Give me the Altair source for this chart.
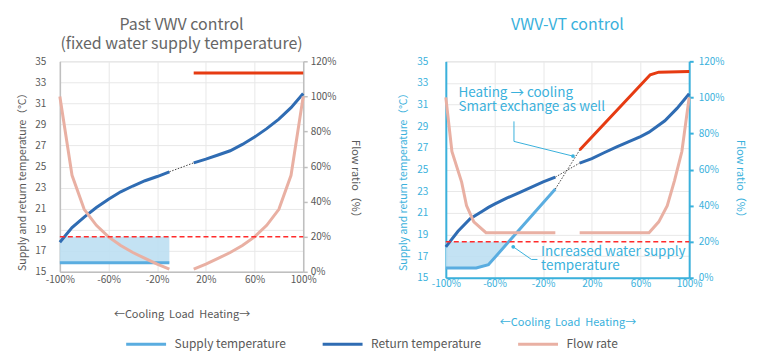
import altair as alt
import pandas as pd

# ---------------- data ----------------
SERIES = ["Supply temperature", "Return temperature", "Flow rate"]
load_ticks = [-100, -60, -20, 20, 60, 100]
temp_ticks = [15, 17, 19, 21, 23, 25, 27, 29, 31, 33, 35]
flow_ticks = [0, 20, 40, 60, 80, 100, 120]
flow_limit = 20  # % (dashed red line)
limit_temp = 18.33

# Past VWV control
past_ret_x1 = [-100, -90, -80, -70, -60, -50, -40, -30, -20, -10]
past_ret_y1 = [17.8, 19.2, 20.2, 21.1, 21.9, 22.6, 23.15, 23.65, 24.05, 24.5]
past_ret_x2 = [10, 20, 30, 40, 50, 60, 70, 80, 90, 100]
past_ret_y2 = [25.35, 25.7, 26.1, 26.5, 27.1, 27.8, 28.6, 29.5, 30.6, 31.95]
past_sup_x = [-100, -10]
past_sup_y = [15.85, 15.85]
past_heat_x = [10, 100]
past_heat_y = [33.9, 33.9]
past_flow_x1 = [-100, -90, -80, -70, -60, -50, -40, -30, -20, -10]
past_flow_y1 = [100, 55, 35.6, 26.5, 19.9, 15, 11, 7.6, 4.3, 1.5]
past_flow_x2 = [10, 20, 30, 40, 50, 60, 70, 80, 90, 100]
past_flow_y2 = [1.5, 4.3, 7.6, 11, 15, 19.9, 26.5, 35.6, 55, 100]
past_conn_x = [[-10, 10]]
past_conn_y = [[24.5, 25.35]]
past_fill_x = [-100, -10]
past_fill_y = [15.85, 15.85]

# VWV-VT control
vt_ret_x1 = [-100, -90, -80, -70, -65, -60, -50, -40, -30, -20, -10]
vt_ret_y1 = [17.85, 19.3, 20.45, 21.15, 21.5, 21.8, 22.35, 22.85, 23.35, 23.85, 24.3]
vt_ret_x2 = [10, 20, 30, 40, 50, 60, 67, 80, 90, 100]
vt_ret_y2 = [25.6, 26.0, 26.55, 27.07, 27.55, 28.05, 28.45, 29.5, 30.65, 32.0]
vt_sup_x = [-100, -75, -65, -10]
vt_sup_y = [15.9, 15.9, 16.2, 23.2]
vt_heat_x = [10, 68, 75, 100]
vt_heat_y = [26.8, 33.75, 34.0, 34.05]
vt_flow_x1 = [-100, -95, -87, -83, -77, -67, -10]
vt_flow_y1 = [100, 70, 53, 40, 31, 25, 25]
vt_flow_x2 = [10, 67, 75, 82, 88, 94, 100]
vt_flow_y2 = [25, 25, 31, 40, 54, 70, 100]
vt_conn_x = [[-10, 10], [-10, 10]]
vt_conn_y = [[24.3, 25.6], [23.2, 26.8]]
vt_fill_x = [-100, -75, -65, -49]
vt_fill_y = [15.9, 15.9, 16.2, 18.33]

vt_notes = ["Heating \u2192 cooling", "Smart exchange as well",
            "Increased water supply", "temperature"]
vt_note_x = [-89.6, -89.6, -21.7, -21.7]
vt_note_y = [32.08, 30.8, 17.42, 16.13]
vt_lead_x = [[-44.0, -44.0, 4.5], [-44.6, -29.6, -24.7]]
vt_lead_y = [[29.45, 27.6, 26.24], [17.86, 16.69, 16.69]]

# ---------------- style ----------------
FONT = "Noto Sans CJK JP"
GRAY = "#595959"
GRAY_LINE = "#BFBFBF"
BLUE_UI = "#3AB1DC"
C_SUPPLY = "#5AADE0"
C_RETURN = "#2F6CB3"
C_FLOW = "#E9B0A3"
C_HEAT = "#E63B12"
C_LIMIT = "#FF2B2B"
C_FILL = "#BCDFF2"
GRID = "#E8E8E8"
AX_TITLE = 11
Y_TITLE = 10.5

legend = alt.Legend(
    orient="none", legendX=65, legendY=262, direction="horizontal", title=None,
    symbolType="stroke", symbolSize=1600, symbolStrokeWidth=3,
    labelFontSize=12, labelColor=GRAY, labelFont=FONT, columnPadding=30,
    labelOffset=7,
)
COLOR = alt.Color("series:N", scale=alt.Scale(domain=SERIES, range=[C_SUPPLY, C_RETURN, C_FLOW]),
                  legend=legend)


def line_rows(xs, ys, series, seg):
    return [dict(x=a, y=b, series=series, seg=seg) for a, b in zip(xs, ys)]


def panel(title, ui_line, ui_text, dw, main_rows, flow_rows, heat_x, heat_y, conn_x, conn_y,
          fill_x, fill_y, y_lab_pad, y_title_pad, yr_lab_pad, yr_title_pad, x_lab_pad,
          x_title_pad, w, h, title_y, notes=None):
    X = alt.X("x:Q", scale=alt.Scale(domain=[-100, 100], nice=False, zero=False),
              axis=alt.Axis(values=load_ticks, labelExpr="datum.value + '%'",
                            title="\u2190Cooling\u00a0\u00a0Load\u00a0\u00a0Heating\u2192",
                            grid=True, gridColor=GRID, domainColor=ui_line, domainWidth=dw,
                            ticks=False, labelColor=ui_text, labelFontSize=10, labelFont=FONT,
                            labelPadding=x_lab_pad, titleColor=ui_text, titleFontSize=AX_TITLE,
                            titleFont=FONT, titleFontWeight="normal", titlePadding=x_title_pad,
                            labelFlush=False))
    YT = alt.Y("y:Q", scale=alt.Scale(domain=[15, 35], nice=False, zero=False),
               axis=alt.Axis(values=temp_ticks, title="Supply and return temperature\uff08\u00b0C\uff09",
                             grid=True, gridColor=GRID, domainColor=ui_line, domainWidth=dw,
                             ticks=False, labelColor=ui_text, labelFontSize=10, labelFont=FONT,
                             labelPadding=y_lab_pad, titleColor=ui_text, titleFontSize=Y_TITLE,
                             titleFont=FONT, titleFontWeight="normal", titlePadding=y_title_pad,
                             titleY=title_y, orient="left"))
    YF = alt.Y("y:Q", scale=alt.Scale(domain=[0, 120], nice=False, zero=False),
               axis=alt.Axis(values=flow_ticks, labelExpr="datum.value + '%'",
                             title="Flow ratio\uff08%\uff09", orient="right", grid=False,
                             domainColor=ui_line, domainWidth=dw, ticks=True, tickColor=ui_line,
                             tickSize=4, tickWidth=dw, labelColor=ui_text, labelFontSize=10,
                             labelFont=FONT, labelPadding=yr_lab_pad, titleColor=ui_text,
                             titleFontSize=AX_TITLE, titleFont=FONT, titleFontWeight="normal",
                             titlePadding=yr_title_pad, titleY=title_y + 2))

    fill_df = pd.DataFrame({"x": fill_x, "y": fill_y, "y2": [limit_temp] * len(fill_x)})
    fill = alt.Chart(fill_df).mark_area(color=C_FILL, opacity=0.9).encode(
        x=X, y=YT, y2=alt.Y2("y2:Q"))

    main = alt.Chart(pd.DataFrame(main_rows)).mark_line(strokeWidth=3).encode(
        x=X, y=YT, color=COLOR, detail="seg:N")

    heat = alt.Chart(pd.DataFrame({"x": heat_x, "y": heat_y})).mark_line(
        strokeWidth=3, color=C_HEAT).encode(x=X, y=YT)

    crow = []
    for i, (cx, cy) in enumerate(zip(conn_x, conn_y)):
        crow += [dict(x=a, y=b, seg=i) for a, b in zip(cx, cy)]
    conn = alt.Chart(pd.DataFrame(crow)).mark_line(
        strokeWidth=1, color="#444444", strokeDash=[1.5, 1.5]).encode(x=X, y=YT, detail="seg:N")

    temp_layers = [fill, main, heat, conn]

    if notes is not None:
        txt, nx, ny, lx, ly = notes
        tdf = pd.DataFrame({"x": nx, "y": ny, "text": txt})
        temp_layers.append(alt.Chart(tdf).mark_text(
            align="left", baseline="middle", fontSize=13.5, font=FONT, color=ui_text).encode(
            x=X, y=YT, text="text:N"))
        lrow = []
        for i, (cx, cy) in enumerate(zip(lx, ly)):
            lrow += [dict(x=a, y=b, seg=i, o=k) for k, (a, b) in enumerate(zip(cx, cy))]
        ldf = pd.DataFrame(lrow)
        temp_layers.append(alt.Chart(ldf).mark_line(strokeWidth=1, color=ui_text).encode(
            x=X, y=YT, detail="seg:N", order="o:Q"))
        ddf = pd.DataFrame({"x": [lx[0][-1], lx[1][0]], "y": [ly[0][-1], ly[1][0]]})
        temp_layers.append(alt.Chart(ddf).mark_point(filled=True, size=14, color=ui_text,
                                                     opacity=1).encode(x=X, y=YT))

    temp = alt.layer(*temp_layers)

    flow_line = alt.Chart(pd.DataFrame(flow_rows)).mark_line(strokeWidth=3).encode(
        x=X, y=YF, color=COLOR, detail="seg:N")
    limit = alt.Chart(pd.DataFrame({"x": [-100, 100], "y": [flow_limit, flow_limit]})).mark_line(
        strokeWidth=1.5, color=C_LIMIT, strokeDash=[5, 3]).encode(x=X, y=YF)
    flow = alt.layer(flow_line, limit)

    return alt.layer(temp, flow).resolve_scale(y="independent").properties(
        width=w, height=h, title=title)


past_main = (line_rows(past_ret_x1, past_ret_y1, "Return temperature", "r1")
             + line_rows(past_ret_x2, past_ret_y2, "Return temperature", "r2")
             + line_rows(past_sup_x, past_sup_y, "Supply temperature", "s1"))
past_flow = (line_rows(past_flow_x1, past_flow_y1, "Flow rate", "f1")
             + line_rows(past_flow_x2, past_flow_y2, "Flow rate", "f2"))
vt_main = (line_rows(vt_ret_x1, vt_ret_y1, "Return temperature", "r1")
           + line_rows(vt_ret_x2, vt_ret_y2, "Return temperature", "r2")
           + line_rows(vt_sup_x, vt_sup_y, "Supply temperature", "s1"))
vt_flow = (line_rows(vt_flow_x1, vt_flow_y1, "Flow rate", "f1")
           + line_rows(vt_flow_x2, vt_flow_y2, "Flow rate", "f2"))

left = panel(
    alt.TitleParams(["Past VWV control", "(fixed water supply temperature)"], fontSize=16,
                    color="#666666", font=FONT, fontWeight="normal", offset=4, lineHeight=19,
                    anchor="middle"),
    GRAY_LINE, GRAY, 1.5, past_main, past_flow, past_heat_x, past_heat_y, past_conn_x,
    past_conn_y, past_fill_x, past_fill_y, 14, 7, 3, 14, 3, 24, 244, 211, 118)

right = panel(
    alt.TitleParams("VWV-VT control", fontSize=16, color=BLUE_UI, font=FONT,
                    fontWeight="normal", offset=23, anchor="middle"),
    BLUE_UI, BLUE_UI, 2, vt_main, vt_flow, vt_heat_x, vt_heat_y, vt_conn_x, vt_conn_y,
    vt_fill_x, vt_fill_y, 18, 8, 5, 11, 1, 28, 244, 217, 118,
    notes=(vt_notes, vt_note_x, vt_note_y, vt_lead_x, vt_lead_y))

chart = alt.hconcat(left, right, spacing=36).configure_view(stroke=None).configure(
    font=FONT).properties(padding={"left": 9, "top": 8, "right": 5, "bottom": 5})

chart.save("out.html", embed_options={"renderer": "svg", "actions": False})
